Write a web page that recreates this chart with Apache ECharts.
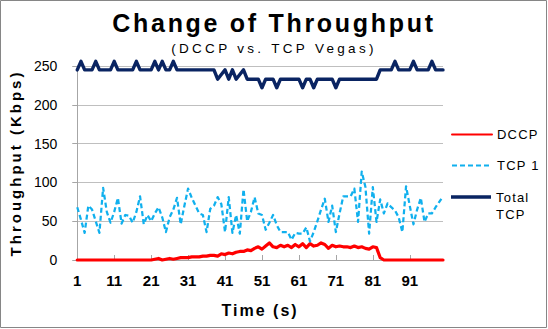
<!DOCTYPE html>
<html>
<head>
<meta charset="utf-8">
<script src="https://cdn.jsdelivr.net/npm/echarts@6/dist/echarts.min.js"></script>
<style>
  html, body { margin: 0; padding: 0; background: #fff; }
  #chart { width: 548px; height: 329px; }
</style>
</head>
<body>
<div id="chart"></div>
<script>
// Time axis (seconds)
const timeSec = Array.from({ length: 100 }, (_, i) => String(i + 1));

// Throughput per second, Kbps
const dccp = [
  0, 0, 0, 0, 0, 0, 0, 0, 0, 0,
  0, 0, 0, 0, 0, 0, 0, 0, 0, 0,
  0, 1, 2, 0, 1, 2, 1, 2, 3, 3,
  3, 4, 4, 4, 5, 5, 6, 6, 5, 8,
  7, 9, 8, 10, 11, 11, 13, 12, 15, 17,
  14, 18, 22, 17, 16, 19, 17, 19, 16, 20,
  17, 21, 16, 21, 18, 19, 22, 20, 15, 19,
  17, 18, 17, 17, 16, 18, 16, 17, 15, 14,
  17, 16, 3, 0, 0, 0, 0, 0, 0, 0,
  0, 0, 0, 0, 0, 0, 0, 0, 0, 0
];

const tcp1 = [
  68, 52, 35, 70, 65, 50, 35, 93, 62, 48,
  62, 80, 47, 58, 57, 48, 62, 82, 46, 58,
  50, 60, 68, 55, 36, 55, 65, 80, 46, 70,
  92, 80, 70, 60, 58, 36, 66, 70, 81, 72,
  36, 81, 35, 58, 34, 91, 50, 62, 81, 60,
  58, 39, 48, 58, 45, 36, 36, 36, 26, 35,
  34, 34, 42, 24, 36, 50, 65, 79, 49, 70,
  36, 60, 82, 82, 82, 92, 49, 114, 94, 34,
  94, 49, 78, 60, 73, 68, 64, 55, 36, 95,
  70, 46, 65, 80, 49, 60, 60, 68, 75, 82
];

const totalTcp = [
  245, 256, 245, 245, 245, 256, 245, 245, 245, 245,
  256, 245, 245, 245, 245, 245, 256, 245, 245, 245,
  245, 256, 245, 256, 245, 245, 256, 245, 245, 245,
  245, 245, 245, 245, 245, 245, 245, 245, 233, 239,
  245, 233, 245, 233, 239, 245, 233, 233, 233, 233,
  222, 233, 233, 233, 222, 233, 233, 233, 233, 233,
  233, 222, 233, 233, 222, 233, 233, 233, 233, 233,
  222, 233, 233, 233, 233, 233, 233, 233, 233, 233,
  233, 233, 245, 245, 245, 245, 256, 245, 245, 245,
  245, 256, 245, 245, 245, 245, 256, 245, 245, 245
];

const seriesNames = ['DCCP', 'TCP 1', 'Total TCP'];

const FONT = "'Liberation Sans', Arial, sans-serif";
const AXIS_GRAY = '#A6A6A6';
const GRID_GRAY = '#BFBFBF';
const NAVY = '#0A2462';

const chart = echarts.init(document.getElementById('chart'), null, {
  renderer: 'svg', width: 548, height: 329
});

const legendText = { fontFamily: FONT, fontSize: 13, color: '#000' };
const legendBase = {
  orient: 'vertical', left: 451, padding: 0, itemWidth: 40, itemHeight: 14,
  selectedMode: false, textStyle: legendText,
  itemStyle: { opacity: 0 }
};

// Two-line legend entry: a 40x34 box with the line key level with the first text line
const topLineKey = 'path://M0,0H0.01V0.01H0Z M0,6.8H40V10.2H0Z M39.99,33.99H40V34H39.99Z';

const option = {
  animation: false,
  backgroundColor: '#fff',
  title: {
    text: 'Change of Throughput',
    subtext: '(DCCP vs. TCP Vegas)',
    left: 'center', top: 5, itemGap: 6,
    textStyle: { fontFamily: FONT, fontWeight: 'bold', fontSize: 25, color: '#000' },
    subtextStyle: { fontFamily: FONT, fontSize: 13.5, color: '#000' }
  },
  graphic: [{
    type: 'rect', silent: true,
    shape: { x: 0.5, y: 0.5, width: 546, height: 327 },
    style: { fill: 'none', stroke: '#868686', lineWidth: 1 }
  }],
  grid: { left: 76, right: 105, top: 66, bottom: 69 },
  legend: [
    Object.assign({}, legendBase, { data: [seriesNames[0]], top: 128 }),
    Object.assign({}, legendBase, { data: [seriesNames[1]], top: 159 }),
    Object.assign({}, legendBase, {
      data: [seriesNames[2]], top: 188.5,
      itemHeight: 34, icon: topLineKey, symbolKeepAspect: false,
      itemStyle: { opacity: 1, color: NAVY },
      formatter: name => name.replace(' ', '\n'),
      textStyle: Object.assign({}, legendText, { lineHeight: 17 })
    })
  ],
  xAxis: {
    type: 'category', data: timeSec, boundaryGap: false,
    axisLine: { lineStyle: { color: AXIS_GRAY, width: 1 } },
    axisTick: { inside: true, length: 5, interval: i => i % 10 === 0, lineStyle: { color: AXIS_GRAY } },
    axisLabel: { interval: i => i % 10 === 0, margin: 13, fontFamily: FONT, fontSize: 15, fontWeight: 'bold', color: '#000' },
    splitLine: { show: false },
    name: 'Time (s)', nameLocation: 'middle', nameGap: 42,
    nameTextStyle: { fontFamily: FONT, fontWeight: 'bold', fontSize: 16, color: '#000' }
  },
  yAxis: {
    type: 'value', min: 0, max: 250, interval: 50,
    axisLine: { show: true, lineStyle: { color: AXIS_GRAY, width: 1 } },
    axisTick: { show: true, length: 5, lineStyle: { color: AXIS_GRAY } },
    axisLabel: { margin: 20, fontFamily: FONT, fontSize: 14, color: '#000' },
    splitLine: { lineStyle: { color: GRID_GRAY, width: 1 } },
    name: 'Throughput (Kbps)', nameLocation: 'middle', nameGap: 52, nameRotate: 90,
    nameTextStyle: { fontFamily: FONT, fontWeight: 'bold', fontSize: 15, color: '#000' }
  },
  series: [
    {
      name: seriesNames[0], type: 'line', data: dccp, symbol: 'none', clip: false,
      itemStyle: { color: '#FF0000' },
      lineStyle: { color: '#FF0000', width: 3.2, cap: 'round', join: 'round' }
    },
    {
      name: seriesNames[1], type: 'line', data: tcp1, symbol: 'none', clip: false,
      itemStyle: { color: '#10B0EE' },
      lineStyle: { color: '#10B0EE', width: 2.25, type: [5, 3], join: 'round' }
    },
    {
      name: seriesNames[2], type: 'line', data: totalTcp, symbol: 'none', clip: false,
      itemStyle: { color: NAVY },
      lineStyle: { color: NAVY, width: 3.4, cap: 'round', join: 'round' }
    }
  ]
};

chart.setOption(option);

// Character spacing for the wide-tracked labels
const tracking = {
  'Change of Throughput': 2.7,
  '(DCCP vs. TCP Vegas)': 3.3,
  'Time (s)': 2,
  'Throughput (Kbps)': 3,
  'DCCP': 1.2, 'TCP 1': 1.2, 'Total': 1.2, 'TCP': 1.2
};
function applyTracking() {
  document.querySelectorAll('#chart svg text').forEach(t => {
    const s = tracking[t.textContent];
    if (s) t.setAttribute('letter-spacing', s);
  });
}
applyTracking();
chart.on('finished', applyTracking);
</script>
</body>
</html>
